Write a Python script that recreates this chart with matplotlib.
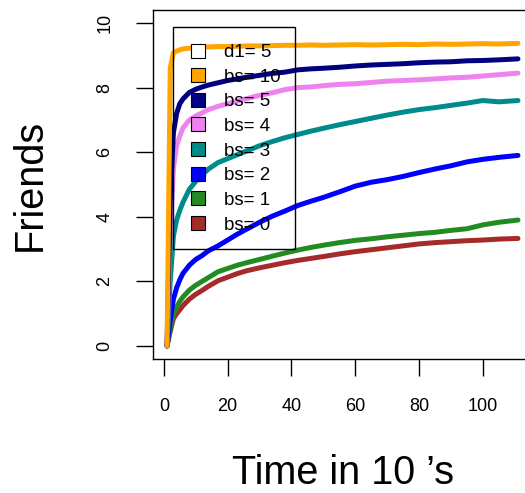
import matplotlib
matplotlib.use("Agg")
import matplotlib.pyplot as plt
from matplotlib.lines import Line2D
from matplotlib.patches import Rectangle

plt.rcParams['font.family'] = ['Liberation Sans', 'DejaVu Sans']

# time steps (in 10's)
time = [1, 2, 3, 4, 5, 6, 8, 10, 12, 14, 17, 20, 23, 26, 30, 34, 38, 42, 46,
        50, 55, 60, 65, 70, 75, 80, 85, 90, 95, 100, 105, 111]

bs0 = [0, 0.45, 0.85, 1.0, 1.12, 1.25, 1.45, 1.6, 1.72, 1.85, 2.02, 2.13, 2.24,
       2.33, 2.42, 2.5, 2.58, 2.65, 2.71, 2.77, 2.85, 2.92, 2.98, 3.04, 3.1,
       3.16, 3.2, 3.23, 3.26, 3.28, 3.31, 3.33]
bs1 = [0, 0.55, 1.0, 1.2, 1.38, 1.52, 1.73, 1.88, 2.0, 2.12, 2.3, 2.4, 2.5,
       2.58, 2.68, 2.78, 2.88, 2.97, 3.05, 3.12, 3.2, 3.27, 3.32, 3.38, 3.43,
       3.48, 3.52, 3.58, 3.63, 3.75, 3.83, 3.9]
bs2 = [0, 0.8, 1.45, 1.8, 2.05, 2.25, 2.5, 2.68, 2.8, 2.95, 3.1, 3.28, 3.46,
       3.62, 3.83, 4.02, 4.18, 4.35, 4.48, 4.6, 4.77, 4.95, 5.07, 5.15, 5.25,
       5.37, 5.48, 5.58, 5.7, 5.78, 5.84, 5.9]
bs3 = [0, 2.0, 3.4, 3.9, 4.2, 4.45, 4.85, 5.1, 5.3, 5.48, 5.68, 5.8, 5.92,
       6.04, 6.2, 6.33, 6.45, 6.55, 6.65, 6.74, 6.85, 6.95, 7.05, 7.15, 7.24,
       7.32, 7.38, 7.45, 7.52, 7.6, 7.56, 7.6]
bs4 = [0, 3.5, 5.5, 6.2, 6.5, 6.75, 7.0, 7.12, 7.22, 7.32, 7.42, 7.5, 7.58,
       7.66, 7.76, 7.84, 7.94, 8.0, 8.02, 8.06, 8.1, 8.12, 8.16, 8.2, 8.22,
       8.24, 8.27, 8.3, 8.32, 8.36, 8.4, 8.45]
bs5 = [0, 4.5, 6.6, 7.2, 7.5, 7.65, 7.85, 7.95, 8.02, 8.08, 8.15, 8.22, 8.27,
       8.32, 8.38, 8.44, 8.48, 8.55, 8.58, 8.6, 8.63, 8.67, 8.7, 8.72, 8.74,
       8.77, 8.79, 8.8, 8.83, 8.84, 8.86, 8.89]
bs10 = [0, 8.6, 9.08, 9.13, 9.17, 9.2, 9.22, 9.24, 9.25, 9.26, 9.27, 9.27, 9.28,
        9.29, 9.29, 9.3, 9.31, 9.31, 9.32, 9.31, 9.32, 9.33, 9.32, 9.33, 9.34,
        9.33, 9.35, 9.34, 9.35, 9.36, 9.35, 9.37]

series = [bs0, bs1, bs2, bs3, bs4, bs5, bs10]
colors = ['#A52A2A', '#228B22', '#0000FF', '#008B8B', '#EE82EE', '#000080', '#FFA500']

legend_labels = ['d1= 5', 'bs= 10', 'bs= 5', 'bs= 4', 'bs= 3', 'bs= 2', 'bs= 1', 'bs= 0']
legend_colors = ['white', '#FFA500', '#000080', '#EE82EE', '#008B8B', '#0000FF', '#228B22', '#A52A2A']

xticks = [0, 20, 40, 60, 80, 100]
yticks = [0, 2, 4, 6, 8, 10]

W, H = 525, 493
AX_L, AX_TOP, AX_W, AX_H = 153, 10.1, 379, 348.8
fig = plt.figure(figsize=(W / 100, H / 100), dpi=100)
ax = fig.add_axes([AX_L / W, (H - AX_TOP - AX_H) / H, AX_W / W, AX_H / H])

for ys, c in zip(series, colors):
    ax.plot(time, ys, color=c, lw=3.6, solid_capstyle='round', solid_joinstyle='round')

span = time[-1] - time[0]
ax.set_xlim(time[0] - 0.04 * span, time[-1] + 0.04 * span)
ax.set_ylim(-0.4, 10.4)
ax.set_xticks(xticks)
ax.set_yticks(yticks)
ax.set_xticklabels([str(v) for v in xticks])
ax.set_yticklabels([str(v) for v in yticks])
ax.tick_params(direction='out', length=12.5, width=1, pad=16, labelsize=13, colors='black')
for lbl in ax.get_yticklabels():
    lbl.set_rotation(90)
    lbl.set_va('center')
for s in ax.spines.values():
    s.set_linewidth(1)


def axfrac(px, py):
    return ((px - AX_L) / AX_W, (AX_TOP + AX_H - py) / AX_H)


handles = [Line2D([], [], marker='s', markersize=10.5, markerfacecolor=c,
                  markeredgecolor='black', markeredgewidth=0.8, linestyle='none')
           for c in legend_colors]
leg = ax.legend(handles, legend_labels, loc='upper left',
                bbox_to_anchor=axfrac(190.5, 44.0), borderaxespad=0,
                fontsize=13.5, frameon=False, borderpad=0,
                labelspacing=0.4, handlelength=0.78, handletextpad=1.0,
                handleheight=0.7)

# legend frame (R style box with asymmetric inner padding)
x0, y0 = axfrac(173, 249)
x1, y1 = axfrac(295, 27)
ax.add_patch(Rectangle((x0, y0), x1 - x0, y1 - y0, transform=ax.transAxes,
                       fill=False, edgecolor='black', lw=1, zorder=6, clip_on=False))

fig.text(342.5 / W, 0.5 / H, "Time in 10 \u2019s", ha='center', va='bottom', fontsize=28.5)
fig.text(30 / W, 1 - 184.5 / H, "Friends", ha='center', va='center', rotation=90, fontsize=28.5)

fig.savefig('out.png', dpi=100)
